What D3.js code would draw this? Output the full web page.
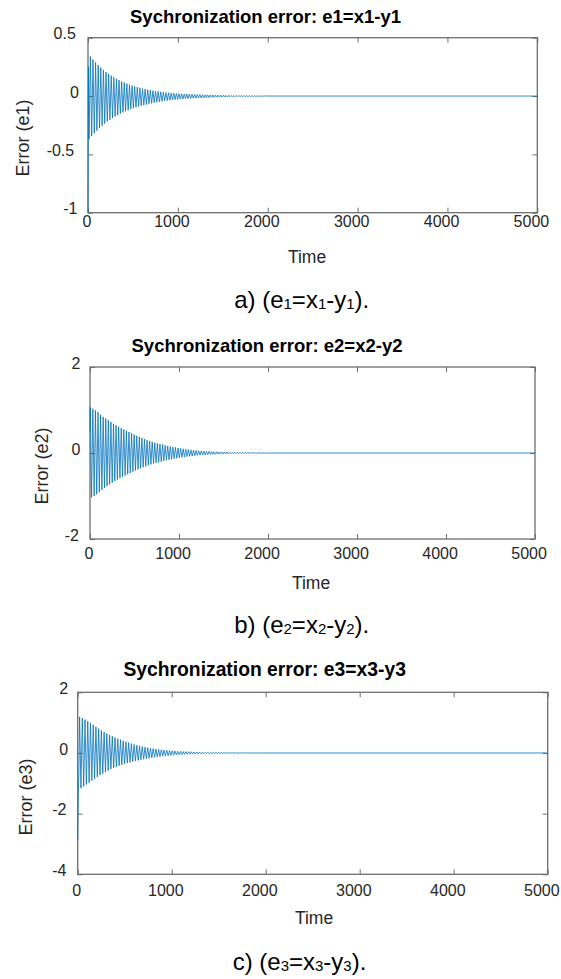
<!DOCTYPE html>
<html><head><meta charset="utf-8">
<script src="https://cdn.jsdelivr.net/npm/d3@7/dist/d3.min.js"></script>
<style>body{margin:0;background:#fff}</style>
</head><body><svg id="c" width="561" height="979"></svg>
<script>
// ---------- data ----------
const timeTicks = [0, 1000, 2000, 3000, 4000, 5000];
const timeEnd = 5000;
const halfPeriod = 14.5;

// e1 = x1 - y1
const e1Ticks = [-1, -0.5, 0, 0.5];
const e1StartTimes = [0, 5];
const e1StartValues = [-1.0, 0.25];
const e1OscStart = 12;
const e1Troughs = [-0.370,-0.343,-0.319,-0.296,-0.274,-0.255,-0.236,-0.219,-0.204,-0.189,
  -0.175,-0.163,-0.151,-0.140,-0.130,-0.121,-0.112,-0.104,-0.096,-0.089,
  -0.083,-0.077,-0.072,-0.066,-0.062,-0.057,-0.053,-0.049,-0.046,-0.042,
  -0.039,-0.036,-0.034,-0.031,-0.029,-0.027,-0.025,-0.023,-0.022,-0.020,
  -0.019,-0.018,-0.017,-0.016,-0.015,-0.014,-0.013,-0.012,-0.011,-0.010,
  -0.010,-0.009,-0.009,-0.008,-0.008,-0.007,-0.007,-0.006,-0.006,-0.005,
  -0.005,-0.005,-0.004,-0.004,-0.004,-0.003,-0.003,-0.003];
const e1Peaks = [0.340,0.313,0.288,0.265,0.244,0.224,0.206,0.190,0.174,0.160,
  0.148,0.136,0.125,0.115,0.106,0.097,0.089,0.082,0.076,0.070,
  0.064,0.059,0.054,0.050,0.046,0.042,0.039,0.036,0.033,0.030,
  0.028,0.026,0.024,0.022,0.020,0.019,0.018,0.017,0.016,0.015,
  0.014,0.013,0.012,0.011,0.010,0.010,0.009,0.009,0.008,0.008,
  0.007,0.007,0.006,0.006,0.005,0.005,0.005,0.004,0.004,0.004,
  0.003,0.003,0.003,0.003,0.002,0.002,0.002,0.002];

// e2 = x2 - y2
const e2Ticks = [-2, 0, 2];
const e2StartTimes = [0];
const e2StartValues = [0.5];
const e2OscStart = 3;
const e2Peaks = [1.06,1.03,0.99,0.95,0.89,0.84,0.80,0.76,0.72,0.68,
  0.645,0.61,0.58,0.55,0.52,0.49,0.46,0.43,0.40,0.375,
  0.35,0.325,0.30,0.28,0.26,0.24,0.225,0.21,0.195,0.18,
  0.165,0.15,0.14,0.128,0.117,0.107,0.097,0.088,0.080,0.072,
  0.065,0.058,0.052,0.047,0.043,0.039,0.036,0.033,0.030,0.028,
  0.026,0.024,0.022,0.020,0.018,0.017,0.016,0.014,0.013,0.012,
  0.011,0.010,0.009,0.008,0.008,0.007,0.006,0.006];
const e2Troughs = [-1.03,-1.00,-0.96,-0.91,-0.86,-0.81,-0.77,-0.73,-0.69,-0.65,
  -0.62,-0.585,-0.555,-0.525,-0.495,-0.465,-0.435,-0.405,-0.38,-0.355,
  -0.33,-0.31,-0.285,-0.265,-0.245,-0.23,-0.215,-0.20,-0.185,-0.17,
  -0.157,-0.145,-0.133,-0.122,-0.112,-0.102,-0.093,-0.085,-0.077,-0.070,
  -0.063,-0.056,-0.050,-0.046,-0.042,-0.038,-0.035,-0.032,-0.029,-0.027,
  -0.025,-0.023,-0.021,-0.019,-0.017,-0.016,-0.015,-0.013,-0.012,-0.011,
  -0.010,-0.009,-0.008,-0.008,-0.007,-0.006,-0.006,-0.005];

// e3 = x3 - y3
const e3Ticks = [-4, -2, 0, 2];
const e3StartTimes = [0, 6, 12];
const e3StartValues = [-2.9, -1.45, -0.75];
const e3OscStart = 20;
const e3Peaks = [1.19,1.15,1.10,1.05,0.99,0.93,0.86,0.80,0.74,0.69,
  0.64,0.59,0.55,0.51,0.47,0.44,0.40,0.37,0.34,0.31,
  0.28,0.255,0.23,0.21,0.19,0.175,0.16,0.145,0.13,0.12,
  0.108,0.098,0.089,0.080,0.073,0.066,0.059,0.053,0.048,0.044,
  0.040,0.037,0.034,0.031,0.028,0.026,0.024,0.022,0.020,0.018,
  0.017,0.016,0.014,0.013,0.012,0.011,0.010,0.009,0.009,0.008,
  0.007,0.007,0.006,0.006,0.005,0.005,0.004,0.004];
const e3Troughs = [-1.16,-1.10,-1.04,-0.98,-0.91,-0.85,-0.79,-0.73,-0.68,-0.63,
  -0.58,-0.53,-0.49,-0.46,-0.42,-0.39,-0.36,-0.33,-0.31,-0.285,
  -0.265,-0.245,-0.225,-0.205,-0.19,-0.175,-0.16,-0.145,-0.132,-0.12,
  -0.108,-0.098,-0.089,-0.080,-0.072,-0.065,-0.058,-0.052,-0.047,-0.043,
  -0.039,-0.036,-0.033,-0.030,-0.027,-0.025,-0.023,-0.021,-0.019,-0.017,
  -0.016,-0.015,-0.013,-0.012,-0.011,-0.010,-0.009,-0.009,-0.008,-0.007,
  -0.007,-0.006,-0.006,-0.005,-0.005,-0.004,-0.004,-0.004];

// ---------- build series ----------
function series(startTimes, startValues, oscStart, first, second) {
  const pts = startTimes.map((t, i) => [t, startValues[i]]);
  let t = oscStart;
  for (let k = 0; k < first.length; k++) {
    pts.push([t, first[k]]); t += halfPeriod;
    if (k < second.length) { pts.push([t, second[k]]); t += halfPeriod; }
  }
  pts.push([t, 0]);
  pts.push([timeEnd, 0]);
  return pts;
}

const FONT = '"Liberation Sans", Arial, Helvetica, sans-serif';
const AXIS_COLOR = "#6e6e6e";
const TEXT_COLOR = "#262626";
const LINE_COLOR = "#0072BD";
const CHAR_SHIFT = 1.6;

const panels = [
  { data: series(e1StartTimes, e1StartValues, e1OscStart, e1Troughs, e1Peaks), yTicks: e1Ticks, domain: [-1, 0.5],
    left: 88, right: 537.3, top: 37.7, bottom: 212.7, xPad: 3, yPad: 7.4,
    title: "Sychronization error: e1=x1-y1", titleX: 265.5, titleY: 22.5, titleSize: 18.5,
    ylab: "Error (e1)", ylabX: 28.5, ylabY: 138, timeX: 307, timeY: 262.7,
    cap: ["a) (e", "1", "=x", "1", "-y", "1", ")."], capX: 301.7, capY: 308 },
  { data: series(e2StartTimes, e2StartValues, e2OscStart, e2Peaks, e2Troughs), yTicks: e2Ticks, domain: [-2, 2],
    left: 90, right: 535, top: 367, bottom: 539, xPad: 9, yPad: 7.9,
    title: "Sychronization error: e2=x2-y2", titleX: 267, titleY: 351.7, titleSize: 18.5,
    ylab: "Error (e2)", ylabX: 48, ylabY: 466, timeX: 311, timeY: 589,
    cap: ["b) (e", "2", "=x", "2", "-y", "2", ")."], capX: 301.7, capY: 633 },
  { data: series(e3StartTimes, e3StartValues, e3OscStart, e3Peaks, e3Troughs), yTicks: e3Ticks, domain: [-4, 2],
    left: 77.7, right: 547.7, top: 692.3, bottom: 874.3, xPad: 10.5, yPad: 8,
    title: "Sychronization error: e3=x3-y3", titleX: 264.7, titleY: 676, titleSize: 19.3,
    ylab: "Error (e3)", ylabX: 31.5, ylabY: 797, timeX: 314, timeY: 924,
    cap: ["c) (e", "3", "=x", "3", "-y", "3", ")."], capX: 299.5, capY: 970 }
];

const svg = d3.select("#c");
const fmt = v => String(v);

function styleAxis(g) {
  g.select(".domain").remove();
  g.attr("font-family", FONT).attr("font-size", 16);
  g.selectAll(".tick line").attr("stroke", AXIS_COLOR).attr("stroke-width", 1);
  g.selectAll(".tick text").attr("fill", TEXT_COLOR);
}

panels.forEach(p => {
  const x = d3.scaleLinear().domain([0, timeEnd]).range([p.left, p.right]);
  const y = d3.scaleLinear().domain(p.domain).range([p.bottom, p.top]);
  const g = svg.append("g");

  g.append("g").attr("transform", `translate(0,${p.bottom})`)
    .call(d3.axisBottom(x).tickValues(timeTicks).tickFormat(fmt).tickSize(-5).tickSizeOuter(0).tickPadding(p.xPad))
    .call(styleAxis)
    .call(a => a.selectAll(".tick text").attr("x", d => -fmt(d).length * CHAR_SHIFT));
  g.append("g").attr("transform", `translate(0,${p.top})`)
    .call(d3.axisTop(x).tickValues(timeTicks).tickFormat("").tickSize(-5).tickSizeOuter(0))
    .call(styleAxis);
  g.append("g").attr("transform", `translate(${p.left},0)`)
    .call(d3.axisLeft(y).tickValues(p.yTicks).tickFormat(fmt).tickSize(-5).tickSizeOuter(0))
    .call(styleAxis)
    .call(a => a.selectAll(".tick text")
      .attr("x", d => -(p.yPad + fmt(d).length * CHAR_SHIFT)).attr("y", -4));
  g.append("g").attr("transform", `translate(${p.right},0)`)
    .call(d3.axisRight(y).tickValues(p.yTicks).tickFormat("").tickSize(-5).tickSizeOuter(0))
    .call(styleAxis);

  g.append("rect").attr("x", p.left).attr("y", p.top)
    .attr("width", p.right - p.left).attr("height", p.bottom - p.top)
    .attr("fill", "none").attr("stroke", AXIS_COLOR).attr("stroke-width", 1.3);

  g.append("path").datum(p.data)
    .attr("fill", "none").attr("stroke", LINE_COLOR).attr("stroke-width", 0.8)
    .attr("d", d3.line().x(d => x(d[0])).y(d => y(d[1])));

  g.append("text").attr("x", p.titleX).attr("y", p.titleY).attr("text-anchor", "middle")
    .attr("font-family", FONT).attr("font-weight", "bold").attr("font-size", p.titleSize)
    .attr("fill", "#000").text(p.title);

  g.append("text").attr("x", p.timeX).attr("y", p.timeY).attr("text-anchor", "middle")
    .attr("font-family", FONT).attr("font-size", 17.5).attr("fill", TEXT_COLOR).text("Time");

  g.append("text").attr("transform", `translate(${p.ylabX},${p.ylabY}) rotate(-90)`)
    .attr("text-anchor", "middle").attr("font-family", FONT).attr("font-size", 18)
    .attr("fill", TEXT_COLOR).text(p.ylab);

  const cap = g.append("text").attr("x", p.capX).attr("y", p.capY).attr("text-anchor", "middle")
    .attr("font-family", FONT).attr("font-size", 24).attr("fill", "#000");
  p.cap.forEach((s, i) => {
    const isSub = i % 2 === 1;
    const t = cap.append("tspan").text(s);
    if (isSub) t.attr("font-size", 15).attr("dy", 1);
    else if (i > 0) t.attr("dy", -1);
  });
});
</script>
</body></html>
